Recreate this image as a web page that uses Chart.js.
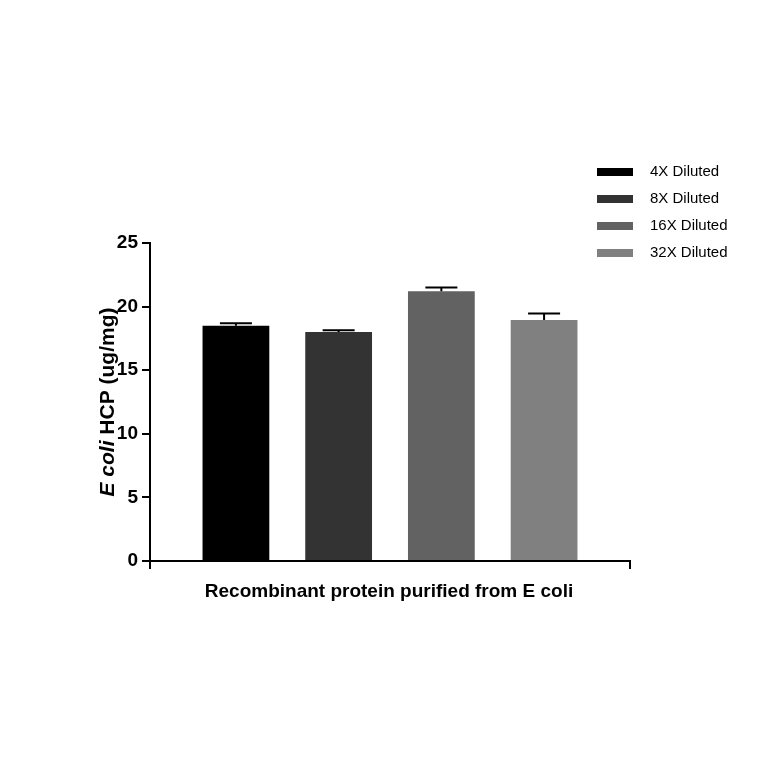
<!DOCTYPE html>
<html><head><meta charset="utf-8">
<script src="https://cdn.jsdelivr.net/npm/chart.js@4"></script>
<style>body{margin:0;background:#fff}</style></head>
<body><canvas id="c" width="764" height="764" style="width:764px;height:764px"></canvas>
<script>
const categories = ["Recombinant protein purified from E coli"];
const seriesNames = ["4X Diluted", "8X Diluted", "16X Diluted", "32X Diluted"];
const means = [18.5, 18.0, 21.2, 18.95];
const errs = [0.2, 0.15, 0.3, 0.5];
const colors = ["#000000", "#333333", "#626262", "#808080"];
const yTicks = [0, 5, 10, 15, 20, 25];

const font = "'Liberation Sans', Arial, sans-serif";

const extras = {
  id: "extras",
  afterDatasetsDraw(chart) {
    const ctx = chart.ctx, y = chart.scales.y;
    ctx.save();
    ctx.strokeStyle = "#000"; ctx.lineWidth = 2;
    chart.data.datasets.forEach((ds, i) => {
      const bar = chart.getDatasetMeta(i).data[0];
      const top = y.getPixelForValue(means[i] + errs[i]);
      ctx.beginPath();
      ctx.moveTo(bar.x, bar.y); ctx.lineTo(bar.x, top);
      ctx.moveTo(bar.x - 16, top); ctx.lineTo(bar.x + 16, top);
      ctx.stroke();
    });
    // legend
    ctx.font = "15px " + font; ctx.textBaseline = "middle";
    seriesNames.forEach((n, i) => {
      const ly = 172 + i * 27;
      ctx.fillStyle = colors[i];
      ctx.fillRect(597, ly - 4, 36, 8);
      ctx.fillStyle = "#000";
      ctx.fillText(n, 650, ly);
    });
    // y title
    ctx.translate(108, 402); ctx.rotate(-Math.PI / 2);
    ctx.font = "italic bold 21px " + font;
    const a = "E coli ";
    const wa = ctx.measureText(a).width;
    ctx.font = "bold 21px " + font;
    const b = "HCP (ug/mg)";
    const wb = ctx.measureText(b).width;
    let x0 = -(wa + wb) / 2;
    ctx.textAlign = "left";
    ctx.font = "italic bold 21px " + font;
    ctx.fillText(a, x0, 0);
    ctx.font = "bold 21px " + font;
    ctx.fillText(b, x0 + wa, 0);
    ctx.restore();
    ctx.save();
    ctx.font = "bold 19px " + font; ctx.textAlign = "center"; ctx.fillStyle = "#000";
    ctx.fillText(categories[0], 389, 597);
    ctx.restore();
  }
};

new Chart(document.getElementById("c"), {
  type: "bar",
  data: {
    labels: categories,
    datasets: seriesNames.map((n, i) => ({
      label: n, data: [means[i]], backgroundColor: colors[i],
      categoryPercentage: 0.856, barPercentage: 0.65
    }))
  },
  options: {
    responsive: false, animation: false,
    layout: { padding: { left: 0, top: 243, right: 134, bottom: 0 } },
    plugins: { legend: { display: false }, tooltip: { enabled: false } },
    scales: {
      x: {
        ticks: { display: false },
        grid: { drawOnChartArea: false, tickLength: 8, color: "#000", lineWidth: 2 },
        border: { color: "#000", width: 2 },
        afterFit(s) { s.height = 203; }
      },
      y: {
        min: 0, max: 25,
        afterBuildTicks(s) { s.ticks = yTicks.map(v => ({ value: v })); },
        ticks: { color: "#000", font: { family: font, size: 19, weight: "bold" }, padding: 4 },
        grid: { drawOnChartArea: false, tickLength: 8, color: "#000", lineWidth: 2 },
        border: { color: "#000", width: 2 },
        afterFit(s) { s.width = 150; }
      }
    }
  },
  plugins: [extras]
});
</script></body></html>
